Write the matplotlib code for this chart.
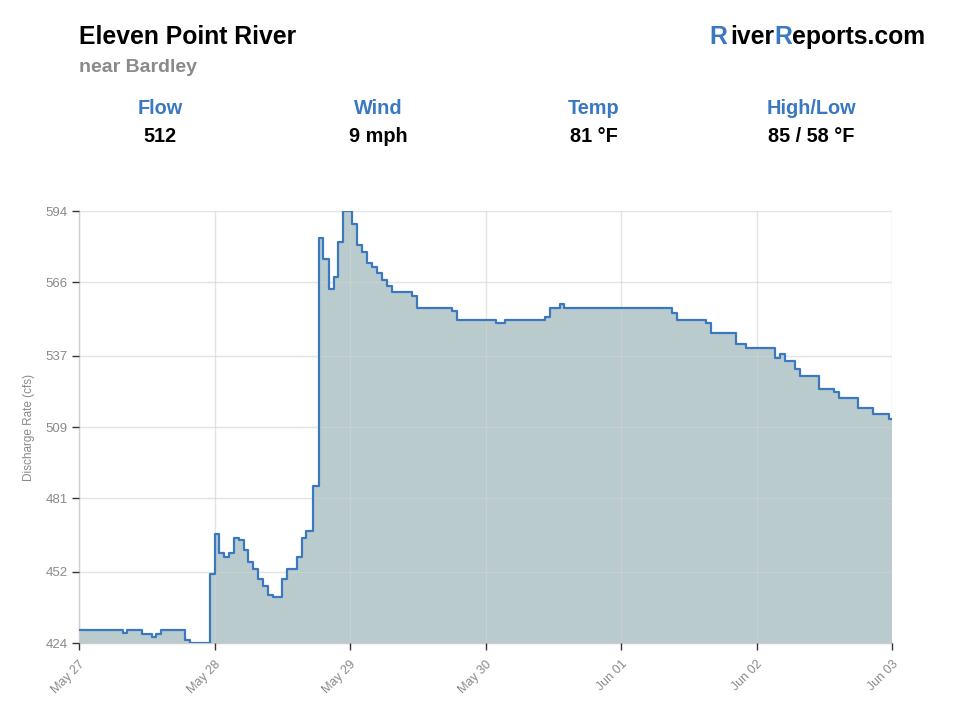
import matplotlib
matplotlib.use("Agg")
import matplotlib.pyplot as plt

plt.rcParams['font.family'] = ['Liberation Sans', 'DejaVu Sans']

# ---- data (hours since start of axis, discharge cfs), step-post ----
hours = [0, 9, 10, 13, 15, 16, 17, 22, 23, 27, 28, 29, 30, 31, 32, 33, 34, 35,
         36, 37, 38, 39, 40, 42, 43, 45, 46, 47, 48.4, 49.5, 50.5, 51.6, 52.6,
         53.6, 54.6, 56.5, 57.5, 58.5, 59.6, 60.5, 61.6, 62.6, 63.6, 64.7, 68.8,
         69.8, 77.0, 78.1, 86.1, 88.0, 96.2, 97.3, 99.3, 100.3, 122.5, 123.6,
         129.6, 130.7, 135.8, 137.8, 143.9, 144.9, 145.9, 147.9, 148.9, 153.0,
         156.0, 157.1, 161.0, 164.0, 167.3, 168]
flow = [429, 428, 429, 427.5, 426.5, 427.5, 429, 425, 424, 451, 467, 459.5, 458,
        459.5, 465.4, 464.5, 460.6, 455.8, 453, 449.1, 446.6, 442.9, 442, 449.2,
        453.1, 458, 465.4, 468, 485.8, 583.5, 575, 563.3, 568.1, 581.9, 594,
        588.9, 580.6, 578, 573.4, 572.1, 569.5, 566.8, 564.5, 562, 560.7, 556,
        554.8, 551.1, 550.1, 551.1, 552.2, 556, 557.4, 556, 553.7, 551.1, 550.1,
        546.1, 541.5, 540, 536.3, 537.6, 535.1, 531.9, 529.1, 524, 522.9, 520.5,
        516.6, 514, 512.1, 512.1]

y_ticks = [424, 452, 481, 509, 537, 566, 594]
x_tick_labels = ["May 27", "May 28", "May 29", "May 30", "Jun 01", "Jun 02", "Jun 03"]

title = "Eleven Point River"
subtitle = "near Bardley"
stat_labels = ["Flow", "Wind", "Temp", "High/Low"]
stat_values = ["512", "9 mph", "81 °F", "85 / 58 °F"]
logo_pieces = ["R", "iver", "R", "eports.com"]

BLUE = '#3a78c2'
LINE = '#3b78c0'
FILL = '#b9cbcd'
GRAY = '#8a8a8a'
logo_colors = [BLUE, 'black', BLUE, 'black']
logo_gaps = [0, 3, 0, 0]

fig = plt.figure(figsize=(9.6, 7.2), dpi=100)
ax = fig.add_axes([79/960, 1 - 643/720, (892 - 79)/960, (643 - 211)/720])

ymin, ymax = 424, 594
ax.fill_between(hours, flow, ymin, step='post', color=FILL, lw=0, zorder=1)
ax.step(hours, flow, where='post', color=LINE, lw=1.6, zorder=3)

ax.set_xlim(0, 168)
ax.set_ylim(ymin, ymax)
xt = [i * 28 for i in range(len(x_tick_labels))]
ax.set_xticks(xt)
ax.set_xticklabels(x_tick_labels, rotation=45, ha='right', rotation_mode='anchor',
                   color=GRAY, fontsize=9)
ax.set_yticks(y_ticks)
ax.set_yticklabels([str(v) for v in y_ticks], color=GRAY, fontsize=9.5)
ax.tick_params(axis='both', length=5, width=1, color='#333333', pad=3)
ax.tick_params(axis='x', pad=6)

ax.grid(True, color='#d2d2d2', alpha=0.6, lw=1, zorder=2)
ax.set_axisbelow(False)
for s in ['top', 'right']:
    ax.spines[s].set_visible(False)
for s in ['left', 'bottom']:
    ax.spines[s].set_color('#cccccc')
    ax.spines[s].set_linewidth(1)

ax.set_ylabel("Discharge Rate (cfs)", color=GRAY, fontsize=8.5, labelpad=8)

# ---- header ----
fig.text(79/960, 1 - 37/720, title, fontsize=17.8, fontweight='bold',
         color='black', ha='left', va='center')
fig.text(79/960, 1 - 68/720, subtitle, fontsize=14, fontweight='bold',
         color=GRAY, ha='left', va='center')

stat_x = [160, 378, 594, 811]
for x, lab, val in zip(stat_x, stat_labels, stat_values):
    fig.text(x/960, 1 - 108/720, lab, fontsize=14.3, fontweight='bold',
             color=BLUE, ha='center', va='center')
    fig.text(x/960, 1 - 136/720, val, fontsize=14.3, fontweight='bold',
             color='black', ha='center', va='center')

# logo with coloured letters, right aligned at x=925
fig.canvas.draw()
renderer = fig.canvas.get_renderer()
widths = []
acc = ""
prev_w = 0
for s in logo_pieces:
    acc += s
    tmp = fig.text(0, 0, acc, fontsize=17.8, fontweight='bold', alpha=0)
    w = tmp.get_window_extent(renderer).width
    widths.append(w - prev_w)
    prev_w = w
    tmp.remove()
x = 925 - (prev_w + sum(logo_gaps))
baseline_y = 1 - 44/720
for s, c, w, g in zip(logo_pieces, logo_colors, widths, logo_gaps):
    x += g
    fig.text(x / 960, baseline_y, s, fontsize=17.8, fontweight='bold', color=c,
             ha='left', va='baseline')
    x += w

fig.savefig("out.png", dpi=100, facecolor='white')
